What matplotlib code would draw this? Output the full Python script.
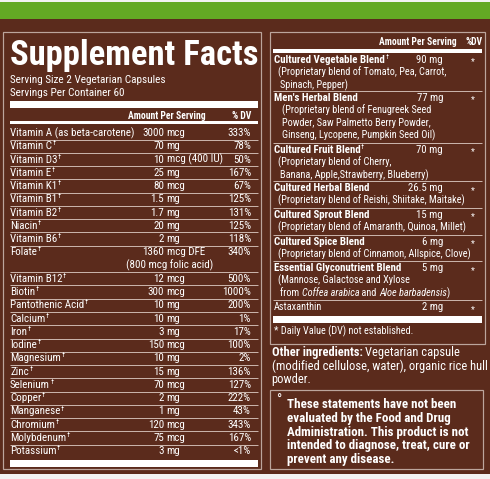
import matplotlib
matplotlib.use("Agg")
import matplotlib.pyplot as plt
from matplotlib.patches import Rectangle

# ---- data ----
nutrients = ["Vitamin A (as beta-carotene)", "Vitamin C", "Vitamin D3", "Vitamin E",
             "Vitamin K1", "Vitamin B1", "Vitamin B2", "Niacin", "Vitamin B6", "Folate",
             "Vitamin B12", "Biotin", "Pantothenic Acid", "Calcium", "Iron", "Iodine",
             "Magnesium", "Zinc", "Selenium", "Copper", "Manganese", "Chromium",
             "Molybdenum", "Potassium"]
amounts = ["3000", "70", "10", "25", "80", "1.5", "1.7", "20", "2", "1360", "12", "300",
           "10", "10", "3", "150", "10", "15", "70", "2", "1", "120", "75", "3"]
units = ["mcg", "mg", "mcg (400 IU)", "mg", "mcg", "mg", "mg", "mg", "mg", "mcg DFE",
         "mcg", "mcg", "mg", "mg", "mg", "mcg", "mg", "mg", "mcg", "mg", "mg", "mcg",
         "mcg", "mg"]
dvs = ["333%", "78%", "50%", "167%", "67%", "125%", "131%", "125%", "118%", "340%",
       "500%", "1000%", "200%", "1%", "17%", "100%", "2%", "136%", "127%", "222%",
       "43%", "343%", "167%", "<1%"]
extra_lines = {"Folate": "(800 mcg folic acid)"}

blends = ["Cultured Vegetable Blend", "Men's Herbal Blend", "Cultured Fruit Blend",
          "Cultured Herbal Blend", "Cultured Sprout Blend", "Cultured Spice Blend",
          "Essential Glyconutrient Blend", "Astaxanthin"]
blend_amounts = ["90 mg", "77 mg", "70 mg", "26.5 mg", "15 mg", "6 mg", "5 mg", "2 mg"]
blend_dagger = [True, False, True, False, False, False, False, False]
blend_details = [
    ["(Proprietary blend of Tomato, Pea, Carrot,", "Spinach, Pepper)"],
    ["(Proprietary blend of Fenugreek Seed", "Powder, Saw Palmetto Berry Powder,",
     "Ginseng, Lycopene, Pumpkin Seed Oil)"],
    ["(Proprietary blend of Cherry,", "Banana, Apple,Strawberry, Blueberry)"],
    ["(Proprietary blend of Reishi, Shiitake, Maitake)"],
    ["(Proprietary blend of Amaranth, Quinoa, Millet)"],
    ["(Proprietary blend of Cinnamon, Allspice, Clove)"],
    ["(Mannose, Galactose and Xylose", None],
    [],
]

disclaimer = ["These statements have not been", "evaluated by the Food and Drug",
              "Administration. This product is not", "intended to diagnose, treat, cure or",
              "prevent any disease."]

BROWN = "#5b2b1c"
GREEN = "#63a924"
LINE = "#c9b2a9"
BORDER = "#bca59c"
FONT = ["Liberation Sans Narrow", "Roboto Condensed", "Liberation Sans", "DejaVu Sans"]

fig = plt.figure(figsize=(4.9, 4.79), dpi=100)
ax = fig.add_axes([0, 0, 1, 1])
ax.set_xlim(0, 490)
ax.set_ylim(479, 0)
ax.axis("off")
fig.patch.set_facecolor("#f2f2f2")
fig.canvas.draw()
renderer = fig.canvas.get_renderer()


def px(v):
    return v * 0.72


def txt(x, y, s, size=11, **kw):
    kw.setdefault("color", "white")
    kw.setdefault("va", "center")
    kw.setdefault("family", FONT)
    return ax.text(x, y, s, fontsize=px(size), **kw)


def right_edge(t):
    bb = t.get_window_extent(renderer)
    return bb.x1  # figure pixels == data x here


def seq(x, y, parts, size=11):
    # draw text pieces one after another, each with own style
    for s, kw in parts:
        t = txt(x, y, s, size=size, **kw)
        x = right_edge(t)
    return x


def dagger(t, y, size=11):
    txt(right_edge(t) + 0.5, y - size * 0.22, "\u2020", size=size * 0.62)


def hline(x0, x1, y, lw=1.0, color=LINE):
    ax.plot([x0, x1], [y, y], color=color, lw=px(lw), solid_capstyle="butt")


def bar(x0, x1, y0, y1):
    ax.add_patch(Rectangle((x0, y0), x1 - x0, y1 - y0, color="white", lw=0))


# background
ax.add_patch(Rectangle((0, 2), 490, 472, color=BROWN, lw=0))
ax.add_patch(Rectangle((0, 2), 490, 17, color=GREEN, lw=0))
for (x0, y0, x1, y1) in [(3, 32, 261, 469), (270, 32, 485, 343.5), (269.5, 390, 483, 469)]:
    ax.add_patch(Rectangle((x0, y0), x1 - x0, y1 - y0, fill=False, ec=BORDER, lw=px(1.2)))

# ---- left panel ----
title = txt(10, 65, "Supplement Facts", size=36, weight="bold", va="baseline")
w = title.get_window_extent(renderer).width
title.set_fontsize(title.get_fontsize() * 248 / w)

txt(10, 80, "Serving Size 2 Vegetarian Capsules", size=11.2)
txt(10, 93, "Servings Per Container 60", size=11.2)
bar(10, 258, 100.7, 108.3)
txt(167, 115.5, "Amount Per Serving", size=9.7, weight="bold", ha="center")
txt(251, 115.5, "% DV", size=9.7, weight="bold", ha="right")
bar(10, 258, 120.7, 124)

pitch = 13.26
y0 = 133.0
k = 0
for i, name in enumerate(nutrients):
    y = y0 + pitch * k
    t = txt(10, y, name)
    if i > 0:
        dagger(t, y)
    txt(164, y, amounts[i], ha="right")
    txt(166.5, y, units[i], ha="left")
    txt(251, y, dvs[i], ha="right")
    if name in extra_lines:
        k += 1
        txt(170, y0 + pitch * k, extra_lines[name], ha="center")
    k += 1
    if i < len(nutrients) - 1:
        hline(10, 258, y0 + pitch * (k - 0.5))
bar(10, 258, 459.5, 466.7)

# ---- right panel ----
txt(457, 42, "Amount Per Serving", size=9.6, weight="bold", ha="right")
txt(483, 42, "%DV", size=9.6, weight="bold", ha="right")
bar(273, 482, 49, 53)

RS = 10.3
head_y = [60, 98, 150, 188.3, 215, 241.7, 268.3, 307.3]
sub_pitch = 12.4
for i, name in enumerate(blends):
    y = head_y[i]
    if name == "Astaxanthin":
        t = txt(274, y, name, size=RS)
    else:
        t = txt(274, y, name, size=10.9, weight="bold")
    if blend_dagger[i]:
        dagger(t, y, 10.9)
    txt(443, y, blend_amounts[i], size=10.8, ha="right")
    txt(471, y + 2, "*", size=9)
    for j, line in enumerate(blend_details[i]):
        yy = y + sub_pitch * (j + 1)
        xx = 278 if j == 0 else 280
        if i == 1:
            xx = 282
        if line is None:
            seq(xx, yy, [("from ", {}), ("Coffea arabica", {"style": "italic"}),
                         (" and ", {}), ("Aloe barbadensis", {"style": "italic"}),
                         (")", {})], size=RS)
        else:
            txt(xx, yy, line, size=RS)
    if i < len(blends) - 1:
        hline(273, 482, head_y[i + 1] - 7)

bar(273, 482, 315.7, 323.3)
txt(274, 331.7, "* Daily Value (DV) not established.", size=RS)

seq(271.5, 352.7, [("Other ingredients: ", {"weight": "bold"}),
                   ("Vegetarian capsule", {})], size=12.5)
txt(271.5, 366, "(modified cellulose, water), organic rice hull", size=12.5)
txt(271.5, 379, "powder.", size=12.5)

txt(276, 401, "\u00b0", size=14)
for j, line in enumerate(disclaimer):
    txt(286.7, 404.3 + 13.9 * j, line, size=13, weight="bold")

fig.savefig("out.png", dpi=100, facecolor=fig.get_facecolor())
